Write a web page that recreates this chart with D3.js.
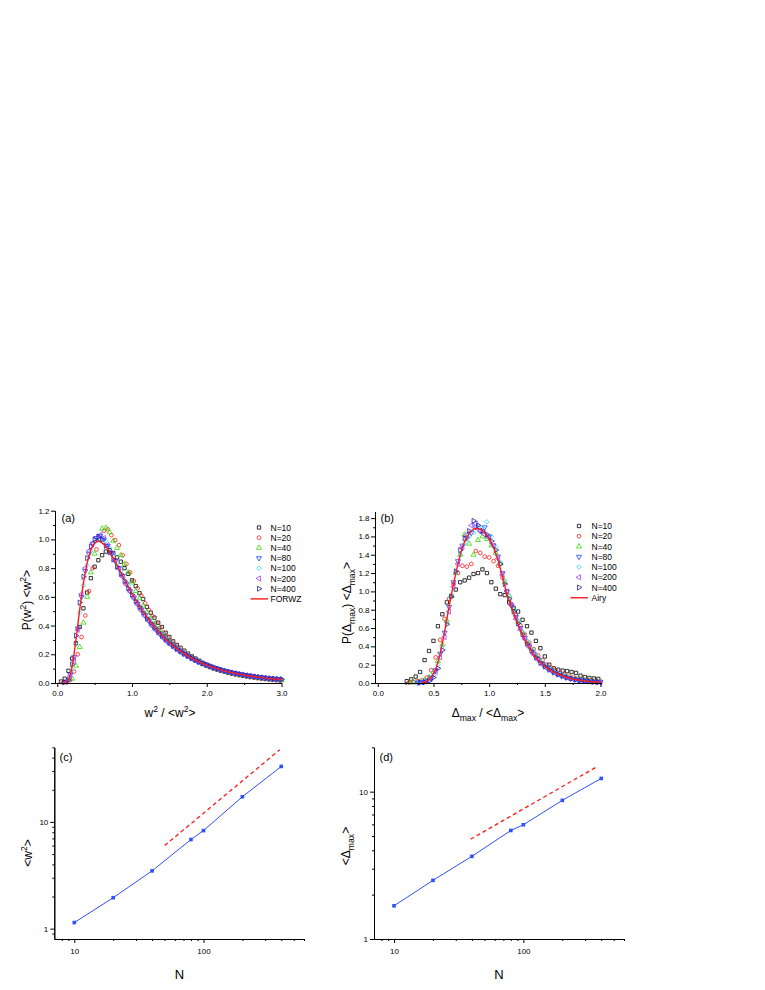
<!DOCTYPE html>
<html>
<head>
<meta charset="utf-8">
<script src="https://cdn.jsdelivr.net/npm/d3@7"></script>
<style>
  body { margin: 0; background: #fff; }
  svg text { font-family: "Liberation Sans", Arial, Helvetica, sans-serif; fill: #000; }
</style>
</head>
<body>
<svg id="fig" width="765" height="990"></svg>
<script>
// ---------------- data ----------------
var sizeNames = ["N=10", "N=20", "N=40", "N=80", "N=100", "N=200", "N=400"];
var sizeColors = ["#000000", "#ff1a1a", "#33dd00", "#2040ff", "#30dcff", "#a040ff", "#1c1ca8"];

// panel (a): w^2/<w^2> bins (two bin grids)
var wGridA = [0.05,0.10,0.15,0.20,0.25,0.30,0.35,0.40,0.45,0.50,
  0.55,0.60,0.65,0.70,0.75,0.80,0.85,0.90,0.95,1.00,
  1.05,1.10,1.15,1.20,1.25,1.30,1.35,1.40,1.45,1.50,
  1.55,1.60,1.65,1.70,1.75,1.80,1.85,1.90,1.95,2.00,
  2.05,2.10,2.15,2.20,2.25,2.30,2.35,2.40,2.45,2.50,
  2.55,2.60,2.65,2.70,2.75,2.80,2.85,2.90,2.95,3.00];
var wGridB = [0.075,0.125,0.175,0.225,0.275,0.325,0.375,0.425,0.475,0.525,
  0.575,0.625,0.675,0.725,0.775,0.825,0.875,0.925,0.975,1.025,
  1.075,1.125,1.175,1.225,1.275,1.325,1.375,1.425,1.475,1.525,
  1.575,1.625,1.675,1.725,1.775,1.825,1.875,1.925,1.975,2.025,
  2.075,2.125,2.175,2.225,2.275,2.325,2.375,2.425,2.475,2.525,
  2.575,2.625,2.675,2.725,2.775,2.825,2.875,2.925,2.975];

var pw10 = [0.01,0.03,0.085,0.17,0.277,0.39,0.52,0.63,0.73,0.81,
  0.855,0.89,0.915,0.925,0.905,0.875,0.845,0.80,0.76,0.715,
  0.675,0.625,0.585,0.53,0.49,0.455,0.42,0.39,0.35,0.32,
  0.29,0.265,0.245,0.225,0.205,0.185,0.17,0.155,0.14,0.128,
  0.118,0.107,0.098,0.09,0.082,0.076,0.069,0.064,0.058,0.053,
  0.049,0.045,0.041,0.037,0.034,0.031,0.028,0.025,0.023,0.021];
var pw20 = [0.003,0.005,0.02,0.08,0.20,0.32,0.47,0.64,0.80,0.93,
  1.00,1.06,1.07,1.03,0.995,0.96,0.89,0.83,0.77,0.71,
  0.66,0.61,0.555,0.51,0.465,0.42,0.385,0.35,0.32,0.29,
  0.265,0.24,0.22,0.20,0.182,0.166,0.152,0.138,0.126,0.114,
  0.104,0.095,0.086,0.079,0.071,0.065,0.059,0.054,0.049,0.045,
  0.04,0.037,0.033,0.03,0.027,0.024,0.021,0.019,0.016];
var pw40 = [null,null,null,0.03,0.12,0.25,0.42,0.60,0.77,0.90,
  1.00,1.075,1.08,1.05,0.99,0.94,0.89,0.83,0.77,0.70,
  0.64,0.59,0.54,0.495,0.45,0.41,0.375,0.345,0.315,0.29,
  0.265,0.242,0.222,0.204,0.187,0.171,0.157,0.143,0.131,0.12,
  0.11,0.101,0.092,0.085,0.077,0.071,0.065,0.059,0.054,0.05,
  0.045,0.041,0.038,0.034,0.031,0.029,0.026,0.024,0.021,0.019];
var pw80 = [null,0.01,0.06,0.18,0.38,0.60,0.78,0.90,0.97,1.01,
  1.025,1.0,0.955,0.90,0.85,0.80,0.745,0.69,0.64,0.595,
  0.55,0.51,0.47,0.435,0.40,0.37,0.342,0.316,0.29,0.27,
  0.248,0.228,0.21,0.195,0.18,0.166,0.152,0.14,0.13,0.12,
  0.11,0.102,0.094,0.087,0.08,0.074,0.068,0.063,0.058,0.054,
  0.05,0.046,0.042,0.039,0.036,0.033,0.03,0.028,0.026];
var pw100 = [null,null,0.02,0.09,0.27,0.49,0.68,0.82,0.92,0.98,
  1.0,1.01,0.99,0.94,0.89,0.83,0.78,0.725,0.675,0.63,
  0.585,0.54,0.50,0.46,0.425,0.392,0.36,0.333,0.306,0.283,
  0.26,0.24,0.221,0.204,0.188,0.173,0.16,0.147,0.135,0.125,
  0.115,0.106,0.097,0.09,0.083,0.076,0.07,0.065,0.06,0.055,
  0.051,0.047,0.043,0.04,0.037,0.034,0.031,0.029,0.027,0.025];
var pw200 = [null,0.01,0.05,0.16,0.37,0.62,0.80,0.92,0.975,1.01,
  1.03,1.01,0.96,0.905,0.85,0.795,0.74,0.685,0.635,0.59,
  0.545,0.505,0.465,0.43,0.395,0.365,0.337,0.31,0.286,0.264,
  0.244,0.225,0.207,0.192,0.177,0.163,0.15,0.139,0.128,0.118,
  0.109,0.1,0.093,0.085,0.079,0.073,0.067,0.062,0.057,0.053,
  0.049,0.045,0.041,0.038,0.035,0.032,0.03,0.027,0.025];
var pw400 = [null,0.005,0.02,0.13,0.33,0.56,0.74,0.87,0.95,1.0,
  1.02,1.0,0.955,0.91,0.86,0.81,0.76,0.71,0.66,0.615,
  0.57,0.53,0.49,0.45,0.418,0.385,0.355,0.328,0.302,0.279,
  0.257,0.237,0.219,0.202,0.187,0.172,0.159,0.146,0.135,0.124,
  0.114,0.105,0.097,0.09,0.083,0.077,0.071,0.066,0.061,0.056,
  0.052,0.048,0.045,0.041,0.038,0.035,0.032,0.03,0.028,0.026];

var forwzX = [0.10,0.15,0.20,0.25,0.30,0.35,0.40,0.45,0.50,0.55,0.60,0.65,0.70,0.75,0.80,0.85,0.90,0.95,1.00,
  1.10,1.20,1.30,1.40,1.50,1.60,1.70,1.80,1.90,2.00,2.20,2.40,2.60,2.80,3.00];
var forwzY = [0.0,0.024,0.12,0.30,0.51,0.695,0.835,0.926,0.973,0.987,0.976,0.95,0.912,0.868,0.82,0.77,0.72,0.67,0.623,
  0.535,0.458,0.39,0.332,0.282,0.24,0.204,0.173,0.147,0.125,0.09,0.065,0.047,0.034,0.024];

// panel (b): Delta_max/<Delta_max> bins
var dGridA = [0.26,0.30,0.34,0.38,0.42,0.46,0.50,0.54,0.58,0.62,0.66,
  0.70,0.74,0.78,0.82,0.86,0.90,0.94,0.98,1.02,1.06,1.10,
  1.14,1.18,1.22,1.26,1.30,1.34,1.38,1.42,1.46,1.50,1.54,
  1.58,1.62,1.66,1.70,1.74,1.78,1.82,1.86,1.90,1.94,1.98];
var dGridB = [0.28,0.32,0.36,0.40,0.44,0.48,0.52,0.56,0.60,0.64,0.68,
  0.72,0.76,0.80,0.84,0.88,0.92,0.96,1.00,1.04,1.08,1.12,
  1.16,1.20,1.24,1.28,1.32,1.36,1.40,1.44,1.48,1.52,1.56,
  1.60,1.64,1.68,1.72,1.76,1.80,1.84,1.88,1.92,1.96,2.00];

var pd10 = [0.02,0.04,0.07,0.12,0.25,0.35,0.46,0.62,0.75,0.88,0.95,
  1.02,1.10,1.12,1.15,1.19,1.20,1.24,1.20,1.10,1.03,0.97,
  0.96,0.88,0.82,0.78,0.69,0.62,0.55,0.46,0.38,0.29,0.20,
  0.16,0.145,0.135,0.13,0.12,0.11,0.08,0.065,0.055,0.05,0.045];
var pd20 = [0.005,0.01,0.02,0.03,0.06,0.14,0.28,0.47,0.70,0.92,1.08,
  1.20,1.28,1.27,1.30,1.44,1.42,1.38,1.37,1.33,1.28,1.15,
  1.0,0.86,0.74,0.63,0.53,0.44,0.37,0.30,0.25,0.20,0.165,
  0.135,0.11,0.09,0.07,0.06,0.045,0.035,0.03,0.025,0.02,0.015];
var pd40 = [null,0.005,0.01,0.015,0.03,0.06,0.12,0.24,0.42,0.68,0.95,
  1.20,1.40,1.62,1.52,1.40,1.56,1.60,1.57,1.50,1.42,1.30,
  1.10,0.95,0.80,0.67,0.55,0.45,0.37,0.30,0.24,0.19,0.16,
  0.13,0.10,0.085,0.07,0.055,0.045,0.035,0.03,0.025,0.02,0.015];
var pd80 = [null,null,0.005,0.01,0.02,0.06,0.14,0.32,0.55,0.83,1.10,
  1.33,1.50,1.58,1.64,1.70,1.66,1.70,1.60,1.50,1.38,1.20,
  1.0,0.84,0.72,0.60,0.49,0.40,0.32,0.26,0.21,0.17,0.14,
  0.11,0.09,0.07,0.055,0.043,0.034,0.027,0.021,0.017,0.013,0.01];
var pd100 = [null,null,0.005,0.01,0.015,0.03,0.08,0.20,0.40,0.66,0.95,
  1.20,1.40,1.52,1.60,1.64,1.72,1.70,1.76,1.60,1.48,1.32,
  1.12,0.95,0.80,0.68,0.56,0.46,0.37,0.30,0.24,0.19,0.15,
  0.125,0.10,0.08,0.063,0.05,0.04,0.032,0.025,0.02,0.016,0.012];
var pd200 = [null,null,0.005,0.01,0.02,0.05,0.12,0.28,0.50,0.78,1.05,
  1.30,1.48,1.62,1.72,1.74,1.66,1.62,1.58,1.50,1.36,1.18,
  1.0,0.85,0.70,0.58,0.48,0.39,0.31,0.25,0.20,0.16,0.13,
  0.10,0.08,0.065,0.05,0.04,0.031,0.024,0.019,0.014,0.011,0.008];
var pd400 = [null,null,null,0.005,0.01,0.02,0.06,0.16,0.36,0.64,0.94,
  1.22,1.45,1.58,1.66,1.77,1.72,1.66,1.62,1.55,1.45,1.30,
  1.08,0.92,0.78,0.65,0.53,0.43,0.35,0.28,0.22,0.18,0.145,
  0.115,0.092,0.074,0.058,0.046,0.036,0.028,0.022,0.017,0.013,0.01];

var airyX = [0.40,0.44,0.48,0.52,0.56,0.60,0.64,0.68,0.72,0.76,0.80,0.84,0.88,0.92,0.96,1.00,1.04,1.08,
  1.12,1.16,1.20,1.24,1.28,1.32,1.36,1.40,1.44,1.48,1.52,1.56,1.60,1.68,1.76,1.84,1.92,2.00];
var airyY = [0.0,0.02,0.065,0.15,0.32,0.56,0.83,1.08,1.30,1.48,1.59,1.66,1.69,1.68,1.64,1.58,1.48,1.34,
  1.16,0.97,0.83,0.70,0.58,0.47,0.39,0.31,0.25,0.205,0.165,0.135,0.11,0.068,0.042,0.026,0.015,0.009];

// panels (c), (d): scaling with N
var sysN = [10, 20, 40, 80, 100, 200, 400];
var meanW2 = [1.14, 1.95, 3.48, 6.84, 8.29, 17.2, 33.1];
var meanDmax = [1.68, 2.50, 3.64, 5.45, 5.96, 8.73, 12.3];
var fitCN = [50, 390], fitCW = [6.0, 47.5];
var fitDN = [39, 372], fitDW = [4.75, 14.8];

// ticks
var aXMajor = [0, 1, 2, 3], aXMinor = [0.5, 1.5, 2.5];
var aYMajor = [0, 0.2, 0.4, 0.6, 0.8, 1.0, 1.2], aYMinor = [0.1, 0.3, 0.5, 0.7, 0.9, 1.1];
var bXMajor = [0, 0.5, 1.0, 1.5, 2.0], bXMinor = [0.25, 0.75, 1.25, 1.75];
var bYMajor = [0, 0.2, 0.4, 0.6, 0.8, 1.0, 1.2, 1.4, 1.6, 1.8];
var bYMinor = [0.1, 0.3, 0.5, 0.7, 0.9, 1.1, 1.3, 1.5, 1.7];
var logNMajor = [10, 100], logNMinor = [8, 9, 20, 30, 40, 50, 60, 70, 80, 90, 200, 300, 400, 500, 600];
var cYMajor = [1, 10], cYMinor = [0.9, 2, 3, 4, 5, 6, 7, 8, 9, 20, 30, 40, 50];
var dYMajor = [1, 10], dYMinor = [2, 3, 4, 5, 6, 7, 8, 9, 20];

// ---------------- drawing ----------------
var svg = d3.select("#fig");
svg.append("rect").attr("width", 765).attr("height", 990).attr("fill", "#fff");

var xA = d3.scaleLinear().domain([-0.03, 3.0]).range([55, 281.5]);
var yA = d3.scaleLinear().domain([0, 1.2]).range([683, 510.7]);
var xB = d3.scaleLinear().domain([-0.025, 2.0]).range([375, 600.5]);
var yB = d3.scaleLinear().domain([0, 1.87]).range([683, 511.7]);
var xC = d3.scaleLog().domain([7, 600]).range([54.3, 304]);
var yC = d3.scaleLog().domain([0.8, 50]).range([939, 747.3]);
var xD = d3.scaleLog().domain([7, 600]).range([374, 624]);
var yD = d3.scaleLog().domain([1, 20]).range([939, 747.3]);

var f1 = d3.format(".1f");
var fInt = function(d) { return String(d); };

function axes(x, y, xMaj, xMin, xFmt, yMaj, yMin, yFmt, padX, padY) {
  var gx = svg.append("g").attr("transform", "translate(0," + y.range()[0] + ")");
  gx.append("g").call(d3.axisBottom(x).tickValues(xMin).tickSize(2).tickSizeOuter(0).tickFormat(""));
  gx.append("g").call(d3.axisBottom(x).tickValues(xMaj).tickSize(4).tickSizeOuter(0)
      .tickPadding(padX).tickFormat(xFmt)).attr("font-size", 8);
  var gy = svg.append("g").attr("transform", "translate(" + x.range()[0] + ",0)");
  gy.append("g").call(d3.axisLeft(y).tickValues(yMin).tickSize(2).tickSizeOuter(0).tickFormat(""));
  gy.append("g").call(d3.axisLeft(y).tickValues(yMaj).tickSize(4).tickSizeOuter(0)
      .tickPadding(padY).tickFormat(yFmt)).attr("font-size", 8);
}

// text with super/subscripts
function rich(t, parts, fs) {
  var shift = 0;
  parts.forEach(function(p) {
    var target = p[1] === "sup" ? -fs * 0.42 : (p[1] === "sub" ? fs * 0.3 : 0);
    t.append("tspan")
      .attr("dy", target - shift)
      .attr("font-size", p[1] ? fs * 0.72 : fs)
      .text(p[0]);
    shift = target;
  });
}
function title(x, y, rot, parts, fs) {
  var t = svg.append("text")
    .attr("transform", "translate(" + x + "," + y + ")" + (rot ? " rotate(-90)" : ""))
    .attr("text-anchor", "middle")
    .attr("font-size", fs);
  rich(t, parts, fs);
}

// symbols
var symTypes = [d3.symbolSquare, d3.symbolCircle, d3.symbolTriangle, d3.symbolTriangle,
  d3.symbolSquare, d3.symbolTriangle, d3.symbolTriangle];
var symRot = [0, 0, 0, 180, 45, -90, 90];
var symSize = [11, 11, 11, 11, 10, 11, 11];
function symPath(i) { return d3.symbol().type(symTypes[i]).size(symSize[i])(); }

function scatter(x, y, grid, vals, i) {
  var pts = grid.map(function(g, k) { return [g, vals[k]]; })
    .filter(function(d) { return d[1] !== null; });
  svg.append("g").selectAll("path").data(pts).enter().append("path")
    .attr("d", symPath(i))
    .attr("transform", function(d) {
      return "translate(" + x(d[0]) + "," + y(d[1]) + ") rotate(" + symRot[i] + ")";
    })
    .attr("fill", "none").attr("stroke", sizeColors[i]).attr("stroke-width", 0.8);
}

function legend(lx, tx, y0, dy, lineName) {
  var g = svg.append("g").attr("font-size", 8.5);
  sizeNames.forEach(function(n, i) {
    var yy = y0 + i * dy;
    g.append("path").attr("d", symPath(i))
      .attr("transform", "translate(" + lx + "," + yy + ") rotate(" + symRot[i] + ")")
      .attr("fill", "none").attr("stroke", sizeColors[i]).attr("stroke-width", 0.8);
    g.append("text").attr("x", tx).attr("y", yy + 3).text(n);
  });
  var yl = y0 + 7 * dy;
  g.append("line").attr("x1", lx - 8.5).attr("x2", lx + 9).attr("y1", yl).attr("y2", yl)
    .attr("stroke", "#ff1a1a").attr("stroke-width", 1.4);
  g.append("text").attr("x", tx).attr("y", yl + 3).text(lineName);
}

// ---- panel (a)
var seriesW = [[wGridA, pw10], [wGridB, pw20], [wGridA, pw40], [wGridB, pw80],
  [wGridA, pw100], [wGridB, pw200], [wGridA, pw400]];
seriesW.forEach(function(s, i) { scatter(xA, yA, s[0], s[1], i); });
svg.append("path")
  .datum(forwzX.map(function(v, k) { return [v, forwzY[k]]; }))
  .attr("fill", "none").attr("stroke", "#ff1a1a").attr("stroke-width", 1.4)
  .attr("d", d3.line().x(function(d) { return xA(d[0]); }).y(function(d) { return yA(d[1]); })
    .curve(d3.curveMonotoneX));
axes(xA, yA, aXMajor, aXMinor, f1, aYMajor, aYMinor, f1, 3, 1.5);
legend(259, 270.5, 527.5, 10.2, "FORWZ");
svg.append("text").attr("x", 61.5).attr("y", 521.5).attr("font-size", 11).text("(a)");
title(170, 717, false, [["w", ""], ["2", "sup"], [" / <w", ""], ["2", "sup"], [">", ""]], 12);
title(31, 600, true, [["P(w", ""], ["2", "sup"], [") <w", ""], ["2", "sup"], [">", ""]], 12);

// ---- panel (b)
var seriesD = [[dGridA, pd10], [dGridB, pd20], [dGridA, pd40], [dGridB, pd80],
  [dGridA, pd100], [dGridB, pd200], [dGridA, pd400]];
seriesD.forEach(function(s, i) { scatter(xB, yB, s[0], s[1], i); });
svg.append("path")
  .datum(airyX.map(function(v, k) { return [v, airyY[k]]; }))
  .attr("fill", "none").attr("stroke", "#ff1a1a").attr("stroke-width", 1.4)
  .attr("d", d3.line().x(function(d) { return xB(d[0]); }).y(function(d) { return yB(d[1]); })
    .curve(d3.curveMonotoneX));
axes(xB, yB, bXMajor, bXMinor, f1, bYMajor, bYMinor, f1, 3, 1.5);
legend(579, 591.5, 526, 10.25, "Airy");
svg.append("text").attr("x", 380.5).attr("y", 521.5).attr("font-size", 11).text("(b)");
title(488, 717, false, [["\u0394", ""], ["max", "sub"], [" / <\u0394", ""], ["max", "sub"], [">", ""]], 12);
title(351, 603, true, [["P(\u0394", ""], ["max", "sub"], [") <\u0394", ""], ["max", "sub"], [">", ""]], 12);

// ---- panels (c), (d)
function scaling(x, y, vals, fitN, fitV) {
  svg.append("path")
    .datum(fitN.map(function(n, k) { return [n, fitV[k]]; }))
    .attr("fill", "none").attr("stroke", "#ff1a1a").attr("stroke-width", 1.3)
    .attr("stroke-dasharray", "4,3")
    .attr("d", d3.line().x(function(d) { return x(d[0]); }).y(function(d) { return y(d[1]); }));
  var pts = sysN.map(function(n, k) { return [n, vals[k]]; });
  svg.append("path").datum(pts)
    .attr("fill", "none").attr("stroke", "#3050f8").attr("stroke-width", 1)
    .attr("d", d3.line().x(function(d) { return x(d[0]); }).y(function(d) { return y(d[1]); }));
  svg.append("g").selectAll("rect").data(pts).enter().append("rect")
    .attr("x", function(d) { return x(d[0]) - 1.8; })
    .attr("y", function(d) { return y(d[1]) - 1.8; })
    .attr("width", 3.6).attr("height", 3.6).attr("fill", "#3050f8");
}

scaling(xC, yC, meanW2, fitCN, fitCW);
axes(xC, yC, logNMajor, logNMinor, fInt, cYMajor, cYMinor, fInt, 5, 2);
svg.append("text").attr("x", 59.5).attr("y", 761).attr("font-size", 11).text("(c)");
title(179.5, 979, false, [["N", ""]], 13);
title(32, 853, true, [["<w", ""], ["2", "sup"], [">", ""]], 12);

scaling(xD, yD, meanDmax, fitDN, fitDW);
axes(xD, yD, logNMajor, logNMinor, fInt, dYMajor, dYMinor, fInt, 5, 2);
svg.append("text").attr("x", 379.5).attr("y", 761).attr("font-size", 11).text("(d)");
title(499, 979, false, [["N", ""]], 13);
title(350, 846, true, [["<\u0394", ""], ["max", "sub"], [">", ""]], 12);
</script>
</body>
</html>
